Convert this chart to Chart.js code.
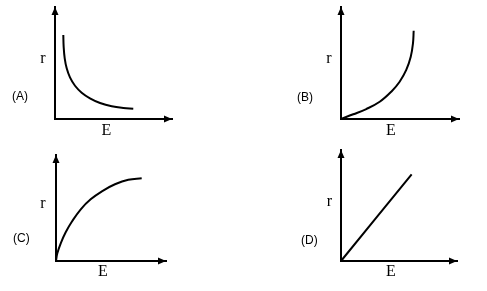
<!DOCTYPE html>
<html>
<head>
<meta charset="utf-8">
<script src="https://cdn.jsdelivr.net/npm/chart.js@4"></script>
<style>
html,body{margin:0;padding:0;background:#fff;}
#wrap{position:relative;width:487px;height:291px;overflow:hidden;background:#fff;}
canvas{position:absolute;left:0;top:0;}
</style>
</head>
<body>
<div id="wrap">
<canvas id="cA" width="487" height="291"></canvas>
<canvas id="cB" width="487" height="291"></canvas>
<canvas id="cC" width="487" height="291"></canvas>
<canvas id="cD" width="487" height="291"></canvas>
</div>
<script>
// ---- data ----
const panelLabels = ['(A)', '(B)', '(C)', '(D)'];
const xAxisLabel = 'E';
const yAxisLabel = 'r';

const curveA_E = [0.71, 0.74, 0.83, 1.00, 1.28, 1.71, 2.28, 2.99, 3.85, 4.85, 5.84, 6.69];
const curveA_r = [7.50, 6.46, 5.42, 4.53, 3.72, 2.97, 2.35, 1.85, 1.43, 1.13, 0.98, 0.92];

const curveB_E = [0, 1.04, 2.14, 3.28, 4.26, 4.97, 5.53, 5.91, 6.10, 6.16];
const curveB_r = [0, 0.42, 0.89, 1.54, 2.44, 3.33, 4.38, 5.56, 6.76, 7.88];

const curveC_E = [0, 0.12, 0.43, 0.88, 1.48, 2.25, 3.15, 4.21, 5.36, 6.57, 7.79];
const curveC_r = [0, 0.73, 1.67, 2.71, 3.77, 4.88, 5.82, 6.60, 7.24, 7.67, 7.80];

const curveD_E = [0, 6.09];
const curveD_r = [0, 7.81];

// ---- layout (styles only) ----
const panels = [
  { id: 'cA', E: curveA_E, r: curveA_r, label: panelLabels[0],
    box: { x0: 55, y0: 119, tipX: 172, tipY: 7 },
    rPos: [43, 63], ePos: [106.5, 135], lPos: [12, 97] },
  { id: 'cB', E: curveB_E, r: curveB_r, label: panelLabels[1],
    box: { x0: 341, y0: 119, tipX: 459, tipY: 7 },
    rPos: [329, 63], ePos: [391, 135], lPos: [297, 98] },
  { id: 'cC', E: curveC_E, r: curveC_r, label: panelLabels[2],
    box: { x0: 56, y0: 261, tipX: 166, tipY: 155 },
    rPos: [43, 208], ePos: [103, 276], lPos: [13, 239] },
  { id: 'cD', E: curveD_E, r: curveD_r, label: panelLabels[3],
    box: { x0: 341, y0: 261, tipX: 457, tipY: 150 },
    rPos: [329.5, 206], ePos: [391, 276], lPos: [301, 241] }
];

const decorPlugin = {
  id: 'decor',
  afterDraw(chart, args, opts) {
    const ctx = chart.ctx;
    const a = chart.chartArea;
    ctx.save();
    ctx.fillStyle = '#000';
    // up arrow on y axis
    ctx.beginPath();
    ctx.moveTo(a.left, a.top);
    ctx.lineTo(a.left - 3.5, a.top + 8);
    ctx.lineTo(a.left + 3.5, a.top + 8);
    ctx.closePath();
    ctx.fill();
    // right arrow on x axis
    ctx.beginPath();
    ctx.moveTo(a.right, a.bottom);
    ctx.lineTo(a.right - 8, a.bottom - 3.5);
    ctx.lineTo(a.right - 8, a.bottom + 3.5);
    ctx.closePath();
    ctx.fill();
    // axis letters
    ctx.font = '16px "Liberation Serif", "Times New Roman", serif';
    ctx.textAlign = 'center';
    ctx.textBaseline = 'alphabetic';
    ctx.fillText(yAxisLabel, opts.rPos[0], opts.rPos[1]);
    ctx.fillText(xAxisLabel, opts.ePos[0], opts.ePos[1]);
    // panel label
    ctx.font = '12px "Liberation Sans", Arial, sans-serif';
    ctx.textAlign = 'left';
    ctx.textBaseline = 'middle';
    ctx.fillText(opts.label, opts.lPos[0], opts.lPos[1]);
    ctx.restore();
  }
};

panels.forEach(p => {
  const data = p.E.map((e, i) => ({ x: e, y: p.r[i] }));
  new Chart(document.getElementById(p.id), {
    type: 'line',
    data: {
      datasets: [{
        data: data,
        borderColor: '#000',
        borderWidth: 2,
        pointRadius: 0,
        fill: false,
        tension: 0.4,
        clip: false
      }]
    },
    options: {
      responsive: false,
      animation: false,
      devicePixelRatio: 1,
      layout: {
        padding: {
          left: p.box.x0,
          top: p.box.tipY,
          right: 487 - p.box.tipX,
          bottom: 291 - p.box.y0
        }
      },
      plugins: {
        legend: { display: false },
        tooltip: { enabled: false },
        decor: { rPos: p.rPos, ePos: p.ePos, lPos: p.lPos, label: p.label }
      },
      scales: {
        x: {
          type: 'linear', min: 0, max: 10,
          ticks: { display: false },
          grid: { display: false, drawTicks: false },
          border: { display: true, color: '#000', width: 2 },
          afterFit: s => { s.height = 0; }
        },
        y: {
          type: 'linear', min: 0, max: 10,
          ticks: { display: false },
          grid: { display: false, drawTicks: false },
          border: { display: true, color: '#000', width: 2 },
          afterFit: s => { s.width = 0; }
        }
      }
    },
    plugins: [decorPlugin]
  });
});
</script>
</body>
</html>
